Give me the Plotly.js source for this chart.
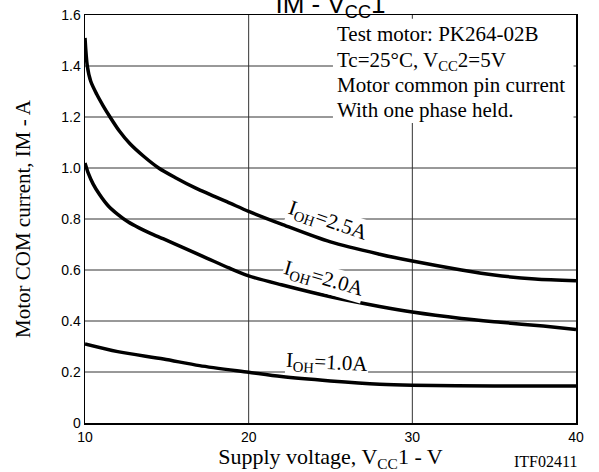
<!DOCTYPE html>
<html>
<head>
<meta charset="utf-8">
<script src="https://cdn.plot.ly/plotly-3.0.1.min.js"></script>
<style>html,body{margin:0;padding:0;background:#fff}#chart{width:599px;height:472px}</style>
</head>
<body>
<div id="chart"></div>
<script>
// Supply voltage VCC1 (V) and motor COM current IM (A)
var x25 = [10, 10.14, 10.35, 10.71, 11.1, 11.53, 12.1, 12.75, 13.6, 14.5, 15.5, 16.8, 18.86, 20, 22, 25, 28, 30, 33, 35, 37.5, 40];
var y25 = [1.51, 1.40, 1.34, 1.29, 1.245, 1.20, 1.145, 1.095, 1.045, 1.00, 0.963, 0.92, 0.862, 0.83, 0.78, 0.71, 0.662, 0.635, 0.60, 0.58, 0.565, 0.558];

var x20 = [10, 10.2, 10.5, 10.9, 11.4, 12.0, 12.6, 13.3, 14.0, 14.8, 16, 17.5, 18.8, 20, 22, 25, 28, 30, 33, 35.4, 38, 40];
var y20 = [1.02, 0.98, 0.937, 0.895, 0.853, 0.818, 0.79, 0.765, 0.744, 0.722, 0.688, 0.645, 0.608, 0.577, 0.542, 0.495, 0.457, 0.435, 0.41, 0.395, 0.38, 0.367];

var x10 = [10, 12, 14.8, 17, 20, 22, 25, 28, 30, 35, 40];
var y10 = [0.31, 0.28, 0.251, 0.225, 0.199, 0.182, 0.165, 0.152, 0.148, 0.145, 0.145];

var seriesLabels = ["I<sub>OH</sub>=2.5A", "I<sub>OH</sub>=2.0A", "I<sub>OH</sub>=1.0A"];
var xTicks = [10, 20, 30, 40];
var yTicks = [0, 0.2, 0.4, 0.6, 0.8, 1.0, 1.2, 1.4, 1.6];
var yTickText = ["0", "0.2", "0.4", "0.6", "0.8", "1.0", "1.2", "1.4", "1.6"];
var noteLines = ["Test motor: PK264-02B", "Tc=25°C, V<sub>CC</sub>2=5V", "Motor common pin current", "With one phase held."];

var serif = "Liberation Serif, Times New Roman, serif";
var sans = "Liberation Sans, Arial, Helvetica, sans-serif";

function curve(x, y, name) {
  return {x: x, y: y, name: name, type: "scatter", mode: "lines",
    line: {color: "#000", width: 3.5, shape: "spline", smoothing: 0.8},
    hoverinfo: "skip", showlegend: false};
}

var data = [curve(x25, y25, seriesLabels[0]), curve(x20, y20, seriesLabels[1]), curve(x10, y10, seriesLabels[2])];

// grid lines drawn at the interior tick values
var shapes = [];
xTicks.slice(1, -1).forEach(function (v) {
  shapes.push({type: "line", xref: "x", yref: "paper", x0: v, x1: v, y0: 0, y1: 1,
    line: {color: "#333", width: 1}, layer: "below"});
});
yTicks.slice(1, -1).forEach(function (v) {
  shapes.push({type: "line", xref: "paper", yref: "y", x0: 0, x1: 1, y0: v, y1: v,
    line: {color: "#333", width: 1}, layer: "below"});
});
// white panel behind the test-condition note
shapes.push({type: "rect", xref: "x", yref: "y", x0: 25.15, x1: 39.85, y0: 1.176, y1: 1.585,
  fillcolor: "#fff", line: {width: 0}, layer: "below"});

var annotations = [
  {x: 24.84, y: 0.792, xref: "x", yref: "y", text: seriesLabels[0], showarrow: false,
    textangle: 19, font: {family: serif, size: 21, color: "#000"}, bgcolor: "#fff", borderpad: 0},
  {x: 24.6, y: 0.566, xref: "x", yref: "y", text: seriesLabels[1], showarrow: false,
    textangle: 16, font: {family: serif, size: 21, color: "#000"}, bgcolor: "#fff", borderpad: 0},
  {x: 24.78, y: 0.235, xref: "x", yref: "y", text: seriesLabels[2], showarrow: false,
    textangle: 3, font: {family: serif, size: 21, color: "#000"}, bgcolor: "#fff", borderpad: 0},
  {x: 1.006, y: -0.095, xref: "paper", yref: "paper", xanchor: "right", yanchor: "middle",
    text: "ITF02411", showarrow: false, font: {family: serif, size: 16, color: "#000"}}
];
var noteY = [1.575, 1.474, 1.376, 1.278];
noteLines.forEach(function (t, i) {
  annotations.push({x: 25.33, y: noteY[i], xref: "x", yref: "y", xanchor: "left", yanchor: "top",
    align: "left", text: t, showarrow: false, borderpad: 0,
    font: {family: serif, size: 21, color: "#000"}});
});

var layout = {
  width: 599, height: 472,
  margin: {l: 85, r: 23, t: 15, b: 49},
  paper_bgcolor: "#fff", plot_bgcolor: "#fff",
  showlegend: false,
  title: {text: "IM - V<sub>CC</sub>1", font: {family: sans, size: 26, color: "#000"},
    x: 0.5, xanchor: "center", xref: "paper", y: 1, yref: "paper", yanchor: "bottom",
    pad: {t: 0, b: 2, l: 0, r: 0}},
  xaxis: {range: [10, 40], tickmode: "array", tickvals: xTicks, ticktext: xTicks.map(String),
    showgrid: false, zeroline: false,
    showline: true, linecolor: "#000", linewidth: 1.5, mirror: true,
    ticks: "", ticklabelstandoff: 1,
    tickfont: {family: sans, size: 14, color: "#000"},
    title: {text: "Supply voltage, V<sub>CC</sub>1 - V", font: {family: serif, size: 22, color: "#000"}, standoff: 5}},
  yaxis: {range: [0, 1.6], tickmode: "array", tickvals: yTicks, ticktext: yTickText,
    showgrid: false, zeroline: false,
    showline: true, linecolor: "#000", linewidth: 1.5, mirror: true,
    ticks: "", ticklabelstandoff: 0,
    tickfont: {family: sans, size: 14, color: "#000"},
    title: {text: "Motor COM current, IM - A", font: {family: serif, size: 21, color: "#000"}, standoff: 25}},
  shapes: shapes,
  annotations: annotations
};

Plotly.newPlot("chart", data, layout, {displayModeBar: false, staticPlot: true});
</script>
</body>
</html>
